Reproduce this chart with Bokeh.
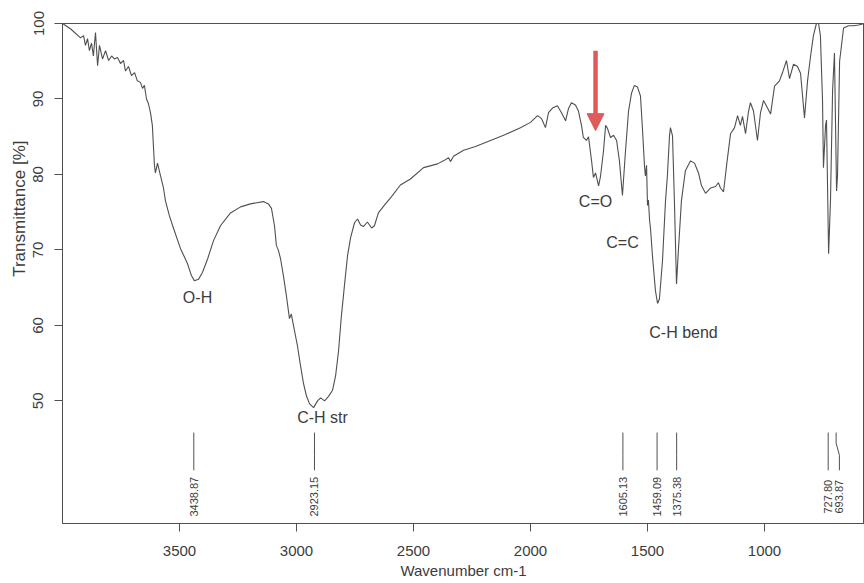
import math
from bokeh.plotting import figure
from bokeh.models import Range1d, FixedTicker, Arrow, NormalHead, ColumnDataSource, Title
from bokeh.core.properties import value
from bokeh.embed import file_html
from bokeh.resources import INLINE

# ---------------- data ----------------
wavenumber = [4000, 3966, 3923, 3910, 3902, 3893, 3885, 3876, 3868, 3859, 3850, 3842, 3829, 3816,
              3803, 3790, 3778, 3765, 3752, 3739, 3731, 3718, 3705, 3692, 3680, 3667, 3658, 3650,
              3641, 3633, 3624, 3616, 3607, 3603, 3594, 3581, 3569, 3560, 3543, 3526, 3496, 3466,
              3449, 3436, 3419, 3402, 3380, 3355, 3325, 3282, 3239, 3197, 3141, 3120, 3107, 3094,
              3086, 3077, 3068, 3056, 3043, 3030, 3022, 3013, 2996, 2983, 2970, 2957, 2944, 2927,
              2910, 2897, 2880, 2863, 2846, 2833, 2820, 2808, 2795, 2782, 2769, 2752, 2739, 2726,
              2714, 2697, 2679, 2667, 2650, 2620, 2598, 2556, 2513, 2457, 2397, 2372, 2350, 2342,
              2329, 2286, 2235, 2171, 2107, 2043, 2000, 1970, 1953, 1936, 1923, 1906, 1885, 1868,
              1850, 1838, 1825, 1808, 1795, 1782, 1774, 1761, 1752, 1739, 1731, 1722, 1709, 1701,
              1688, 1679, 1671, 1658, 1645, 1632, 1620, 1607, 1594, 1581, 1568, 1556, 1543, 1530,
              1521, 1513, 1509, 1504, 1500, 1496, 1491, 1487, 1479, 1466, 1457, 1449, 1436, 1423,
              1415, 1406, 1402, 1393, 1385, 1376, 1368, 1355, 1338, 1316, 1299, 1282, 1269, 1252,
              1231, 1209, 1197, 1188, 1175, 1162, 1145, 1128, 1115, 1103, 1094, 1081, 1068, 1060,
              1047, 1030, 1017, 1004, 987, 974, 957, 936, 923, 906, 893, 876, 859, 846,
              829, 816, 803, 791, 778, 769, 761, 752, 748, 739, 735, 726, 718, 709,
              701, 692, 688, 679, 662, 641, 620, 598, 573]

transmittance = [100.0, 99.3, 98.1, 98.4, 97.1, 98.0, 96.4, 97.4, 95.7, 98.8, 94.4, 97.1, 95.3, 96.4,
                 95.1, 95.7, 95.3, 95.5, 94.7, 95.1, 93.7, 94.3, 93.1, 93.5, 92.4, 92.2, 91.4, 91.8,
                 90.0, 89.4, 88.2, 86.5, 81.2, 80.2, 81.5, 79.8, 78.3, 76.5, 74.5, 72.9, 70.2, 68.2,
                 66.6, 65.9, 66.1, 67.0, 68.8, 71.2, 73.2, 74.9, 75.7, 76.1, 76.4, 76.1, 75.5, 73.2,
                 70.6, 69.9, 68.8, 66.6, 63.9, 60.9, 61.5, 60.0, 57.3, 54.7, 52.3, 50.6, 49.6, 49.1,
                 50.0, 50.4, 50.0, 50.6, 51.4, 53.3, 56.7, 61.3, 65.3, 69.2, 71.6, 73.6, 74.1, 73.3,
                 73.1, 73.7, 72.9, 73.2, 74.9, 76.1, 76.9, 78.6, 79.4, 80.9, 81.4, 81.8, 82.2, 81.7,
                 82.4, 83.2, 83.7, 84.5, 85.3, 86.2, 86.9, 87.8, 87.4, 86.2, 88.2, 88.8, 89.1, 88.2,
                 87.1, 88.7, 89.5, 89.2, 88.4, 86.5, 84.9, 84.5, 85.0, 81.8, 79.6, 80.2, 78.5, 79.7,
                 83.1, 86.5, 86.1, 84.9, 85.2, 84.5, 81.8, 77.2, 83.1, 88.4, 90.8, 91.8, 91.6, 90.4,
                 85.8, 81.2, 79.8, 81.2, 75.9, 76.6, 73.9, 72.8, 69.3, 64.6, 62.9, 63.5, 68.5, 76.5,
                 79.8, 85.1, 86.2, 85.1, 76.5, 65.5, 69.9, 76.5, 80.5, 81.8, 81.5, 80.2, 78.5, 77.5,
                 78.2, 78.4, 78.9, 78.2, 77.7, 81.2, 85.4, 86.2, 87.8, 86.5, 87.7, 85.4, 88.4, 89.5,
                 88.4, 84.5, 88.2, 89.8, 88.8, 88.0, 91.7, 92.4, 93.5, 95.1, 92.7, 94.6, 94.3, 93.4,
                 87.5, 92.4, 95.7, 98.4, 100.0, 100.0, 98.4, 89.8, 80.9, 86.5, 87.2, 69.5, 76.5, 91.1,
                 96.1, 77.8, 79.8, 95.0, 99.4, 99.7, 99.7, 99.8, 100.0]

assert len(wavenumber) == len(transmittance)

peak_wn = [3438.87, 2923.15, 1605.13, 1459.09, 1375.38, 727.80, 693.87]
peak_text = ["3438.87", "2923.15", "1605.13", "1459.09", "1375.38", "727.80", "693.87"]

group_text = ["O-H", "C-H str", "C=O", "C=C", "C-H bend"]
group_wn = [3423, 2889, 1722, 1607, 1346]
group_t = [63.7, 47.8, 76.4, 71.0, 59.0]

x_ticks = [3500, 3000, 2500, 2000, 1500, 1000]
y_ticks = [50, 60, 70, 80, 90, 100]

# ---------------- layout / style ----------------
LINE = "#505050"
TEXT = "#3c3c3c"
RED = "#e05a5c"
FONT = "Liberation Sans"

label_shift = [0, 0, 0, 0, 0, 0, -14]       # cm-1 offset of the last, crowded label
mark_top, mark_bend_a, mark_bend_b, mark_bottom = 45.8, 44.4, 42.8, 40.8
peak_label_y = 37.3

p = figure(width=864, height=583, output_backend="svg", toolbar_location=None,
           x_range=Range1d(4000, 572.6), y_range=Range1d(33.75, 100.0),
           min_border_left=62, min_border_right=0, min_border_top=23, min_border_bottom=60,
           background_fill_color="white", border_fill_color="white")

p.outline_line_color = LINE
p.outline_line_width = 1
p.xgrid.visible = False
p.ygrid.visible = False

for ax in (p.xaxis, p.yaxis):
    ax.axis_line_color = LINE
    ax.major_tick_line_color = LINE
    ax.major_tick_out = 8
    ax.major_tick_in = 0
    ax.minor_tick_line_color = None
    ax.major_label_text_font = FONT
    ax.major_label_text_font_size = "15px"
    ax.major_label_text_color = TEXT

p.xaxis.ticker = FixedTicker(ticks=x_ticks)
p.yaxis.ticker = FixedTicker(ticks=y_ticks)
p.yaxis.major_label_orientation = "parallel"
p.yaxis.major_label_standoff = 11
p.xaxis.major_label_standoff = 14

p.xaxis.axis_label = "Wavenumber cm-1"
p.xaxis.axis_label_standoff = 3
p.xaxis.axis_label_text_font = FONT
p.xaxis.axis_label_text_font_size = "15px"
p.xaxis.axis_label_text_font_style = "normal"
p.xaxis.axis_label_text_color = TEXT

p.add_layout(Title(text="Transmittance [%]", align="right", offset=117, standoff=4,
                   text_font=FONT, text_font_size="17px", text_font_style="normal",
                   text_color=TEXT), "left")

# spectrum
src = ColumnDataSource(dict(x=wavenumber, y=transmittance))
p.line("x", "y", source=src, line_color=LINE, line_width=1.1)

# peak marker lines and labels
xs, ys, lx = [], [], []
for wn, sh in zip(peak_wn, label_shift):
    xs.append([wn, wn, wn + sh, wn + sh])
    ys.append([mark_top, mark_bend_a, mark_bend_b, mark_bottom])
    lx.append(wn + sh)
p.multi_line(xs, ys, line_color=LINE, line_width=1)
p.text(x=lx, y=[peak_label_y] * len(lx), text=peak_text, angle=math.pi / 2,
       text_align="center", text_baseline="middle", text_font=value(FONT),
       text_font_size="11px", text_color=TEXT)

# functional group labels
p.text(x=group_wn, y=group_t, text=group_text, text_align="center", text_baseline="middle",
       text_font=value(FONT), text_font_size="16px", text_color=TEXT)

# red arrow pointing at C=O
arrow_wn, arrow_top, arrow_tip = 1722, 96.4, 85.8
p.add_layout(Arrow(end=NormalHead(size=17, fill_color=RED, line_color=RED),
                   x_start=arrow_wn, y_start=arrow_top, x_end=arrow_wn, y_end=arrow_tip,
                   line_color=RED, line_width=4.5))

open("out.html", "w").write(file_html(p, INLINE))
